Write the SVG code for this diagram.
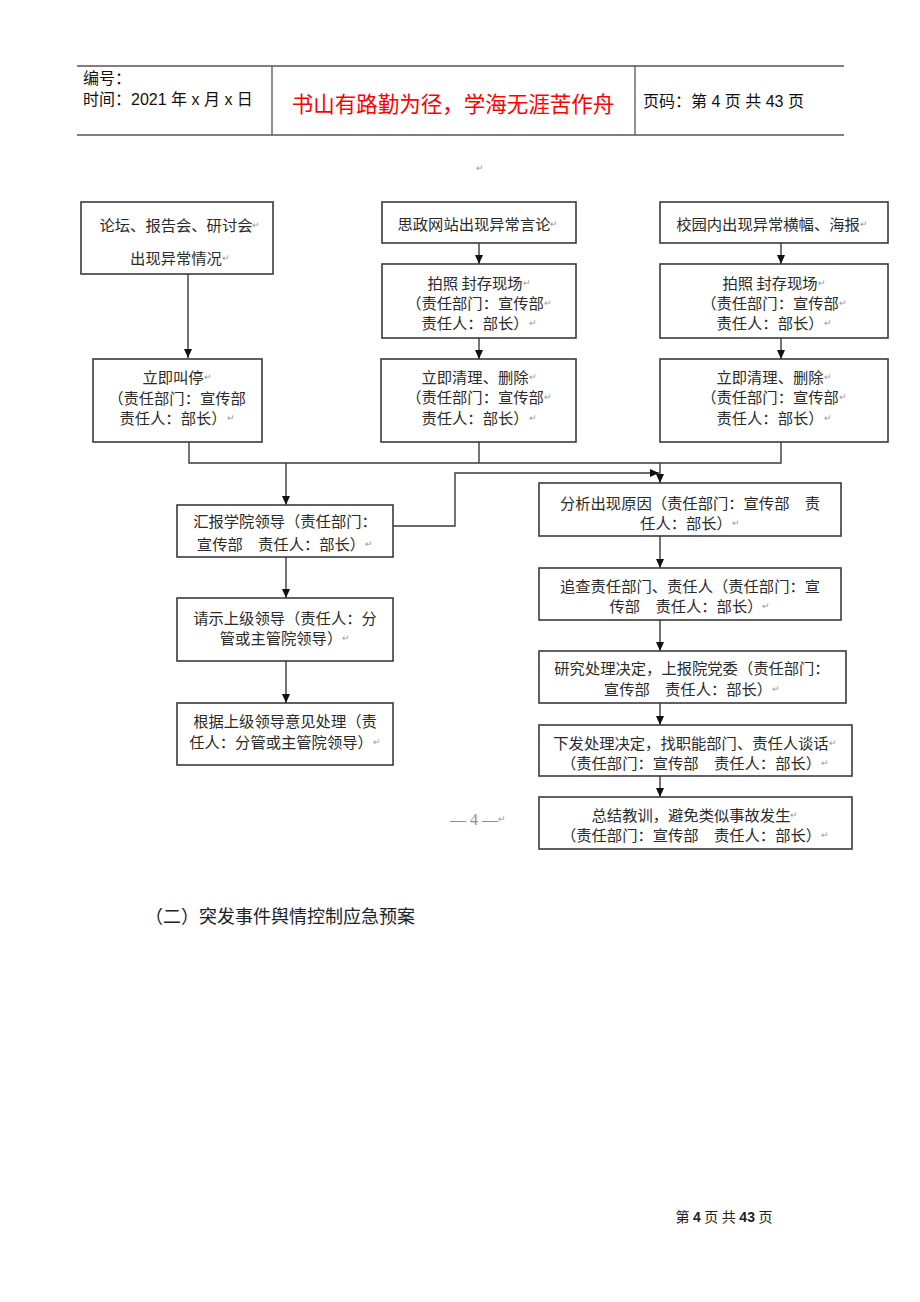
<svg xmlns="http://www.w3.org/2000/svg" width="920" height="1302" viewBox="0 0 920 1302">
<defs>
<marker id="ah" markerWidth="9" markerHeight="8" refX="9" refY="4" orient="auto" markerUnits="userSpaceOnUse">
<path d="M0,0 L9,4 L0,8 Z" fill="#111"/>
</marker>
<style>
.bx{fill:#fff;stroke:#3a3a3a;stroke-width:1.6}
.t{font-family:"Noto Sans CJK SC","Liberation Sans",sans-serif;font-size:15.3px;fill:#2a2a2a;text-anchor:middle;dominant-baseline:central}
.pm{font-size:9px;fill:#999}
.c{fill:none;stroke:#3a3a3a;stroke-width:1.4}
.ca{fill:none;stroke:#3a3a3a;stroke-width:1.4;marker-end:url(#ah)}
.h{font-family:"Liberation Sans","Noto Sans CJK SC",sans-serif;font-size:16px;fill:#111;dominant-baseline:central}
.hl{stroke:#555;stroke-width:1.3}
</style>
</defs>
<rect width="920" height="1302" fill="#fff"/>

<g id="header">
<line class="hl" x1="77" y1="66" x2="844" y2="66"/>
<line class="hl" x1="77" y1="135" x2="844" y2="135"/>
<line class="hl" x1="272" y1="66" x2="272" y2="135"/>
<line class="hl" x1="635" y1="66" x2="635" y2="135"/>
<text class="h" x="83" y="78">编号：</text>
<text class="h" x="83" y="99">时间：2021 年 x 月 x 日</text>
<text x="453" y="102" style="font-family:'Noto Sans CJK SC',sans-serif;font-size:21.5px;fill:#f00;text-anchor:middle;dominant-baseline:central">书山有路勤为径，学海无涯苦作舟</text>
<text class="h" x="643" y="101">页码：第 4 页  共 43 页</text>
<text x="480" y="167" class="t pm">↵</text>
</g>

<g id="connectors">
<path class="ca" d="M188,274 V358"/>
<path class="ca" d="M479,243 V264"/>
<path class="ca" d="M479,338 V359"/>
<path class="ca" d="M781,243 V264"/>
<path class="ca" d="M781,338 V359"/>
<path class="c" d="M189,442 V463 H781 V442"/>
<path class="c" d="M479,442 V463"/>
<path class="ca" d="M286,463 V505"/>
<path class="ca" d="M660,463 V483"/>
<path class="ca" d="M393,526 H455 V473 H659"/>
<path class="ca" d="M286,557 V598"/>
<path class="ca" d="M286,661 V703"/>
<path class="ca" d="M660,536 V568"/>
<path class="ca" d="M660,620 V651"/>
<path class="ca" d="M660,703 V725"/>
<path class="ca" d="M660,776 V797"/>
</g>

<g id="n1">
<rect class="bx" x="81" y="202" width="192" height="72"/>
<text class="t" x="180" y="224">论坛、报告会、研讨会<tspan class="pm">↵</tspan></text>
<text class="t" x="180" y="257">出现异常情况<tspan class="pm">↵</tspan></text>
</g>
<g id="n2">
<rect class="bx" x="382" y="202" width="194" height="41"/>
<text class="t" x="478" y="223">思政网站出现异常言论<tspan class="pm">↵</tspan></text>
</g>
<g id="n3">
<rect class="bx" x="660" y="202" width="228" height="41"/>
<text class="t" x="772" y="223">校园内出现异常横幅、海报<tspan class="pm">↵</tspan></text>
</g>
<g id="n4">
<rect class="bx" x="382" y="264" width="194" height="74"/>
<text class="t" x="479" y="282">拍照 封存现场<tspan class="pm">↵</tspan></text>
<text class="t" x="479" y="302">（责任部门：宣传部<tspan class="pm">↵</tspan></text>
<text class="t" x="479" y="322">责任人：部长）<tspan class="pm">↵</tspan></text>
</g>
<g id="n5">
<rect class="bx" x="660" y="264" width="228" height="74"/>
<text class="t" x="774" y="282">拍照 封存现场<tspan class="pm">↵</tspan></text>
<text class="t" x="774" y="302">（责任部门：宣传部<tspan class="pm">↵</tspan></text>
<text class="t" x="774" y="322">责任人：部长）<tspan class="pm">↵</tspan></text>
</g>
<g id="n6">
<rect class="bx" x="93" y="359" width="169" height="83"/>
<text class="t" x="177" y="376">立即叫停<tspan class="pm">↵</tspan></text>
<text class="t" x="177" y="397">（责任部门：宣传部</text>
<text class="t" x="177" y="417">责任人：部长）<tspan class="pm">↵</tspan></text>
</g>
<g id="n7">
<rect class="bx" x="381" y="359" width="195" height="83"/>
<text class="t" x="479" y="376">立即清理、删除<tspan class="pm">↵</tspan></text>
<text class="t" x="479" y="396">（责任部门：宣传部<tspan class="pm">↵</tspan></text>
<text class="t" x="479" y="417">责任人：部长）<tspan class="pm">↵</tspan></text>
</g>
<g id="n8">
<rect class="bx" x="660" y="359" width="228" height="83"/>
<text class="t" x="774" y="376">立即清理、删除<tspan class="pm">↵</tspan></text>
<text class="t" x="774" y="396">（责任部门：宣传部<tspan class="pm">↵</tspan></text>
<text class="t" x="774" y="417">责任人：部长）<tspan class="pm">↵</tspan></text>
</g>
<g id="n9">
<rect class="bx" x="177" y="505" width="216" height="52"/>
<text class="t" x="285" y="520">汇报学院领导（责任部门：</text>
<text class="t" x="285" y="543">宣传部　责任人：部长）<tspan class="pm">↵</tspan></text>
</g>
<g id="n10">
<rect class="bx" x="177" y="598" width="216" height="63"/>
<text class="t" x="285" y="617">请示上级领导（责任人：分</text>
<text class="t" x="285" y="637">管或主管院领导）<tspan class="pm">↵</tspan></text>
</g>
<g id="n11">
<rect class="bx" x="177" y="703" width="216" height="62"/>
<text class="t" x="285" y="720">根据上级领导意见处理（责</text>
<text class="t" x="285" y="741">任人：分管或主管院领导）<tspan class="pm">↵</tspan></text>
</g>
<g id="n12">
<rect class="bx" x="539" y="483" width="302" height="53"/>
<text class="t" x="690" y="502">分析出现原因（责任部门：宣传部　责</text>
<text class="t" x="690" y="522">任人：部长）<tspan class="pm">↵</tspan></text>
</g>
<g id="n13">
<rect class="bx" x="539" y="568" width="302" height="52"/>
<text class="t" x="690" y="585">追查责任部门、责任人（责任部门：宣</text>
<text class="t" x="690" y="605">传部　责任人：部长）<tspan class="pm">↵</tspan></text>
</g>
<g id="n14">
<rect class="bx" x="539" y="651" width="307" height="52"/>
<text class="t" x="692" y="667">研究处理决定，上报院党委（责任部门：</text>
<text class="t" x="692" y="688">宣传部　责任人：部长）<tspan class="pm">↵</tspan></text>
</g>
<g id="n15">
<rect class="bx" x="539" y="725" width="313" height="51"/>
<text class="t" x="695" y="742">下发处理决定，找职能部门、责任人谈话<tspan class="pm">↵</tspan></text>
<text class="t" x="695" y="762">（责任部门：宣传部　责任人：部长）<tspan class="pm">↵</tspan></text>
</g>
<g id="n16">
<rect class="bx" x="539" y="797" width="313" height="52"/>
<text class="t" x="695" y="814">总结教训，避免类似事故发生<tspan class="pm">↵</tspan></text>
<text class="t" x="695" y="834">（责任部门：宣传部　责任人：部长）<tspan class="pm">↵</tspan></text>
</g>

<g id="page-mark">
<text x="478" y="819" style="font-family:'Liberation Serif',serif;font-size:16px;fill:#8a8fa0;text-anchor:middle;dominant-baseline:central">— 4 —<tspan style="font-size:9px;fill:#999">↵</tspan></text>
</g>

<g id="texts">
<text x="145" y="917" style="font-family:'Liberation Serif','Noto Sans CJK SC',serif;font-size:18px;fill:#222;dominant-baseline:central">（二）突发事件舆情控制应急预案</text>
<text x="724" y="1217" style="font-family:'Liberation Serif','Noto Sans CJK SC',serif;font-size:14px;fill:#222;text-anchor:middle;dominant-baseline:central">第 <tspan style="font-family:'Liberation Sans',sans-serif;font-weight:bold">4</tspan> 页 共 <tspan style="font-family:'Liberation Sans',sans-serif;font-weight:bold">43</tspan> 页</text>
</g>
</svg>
